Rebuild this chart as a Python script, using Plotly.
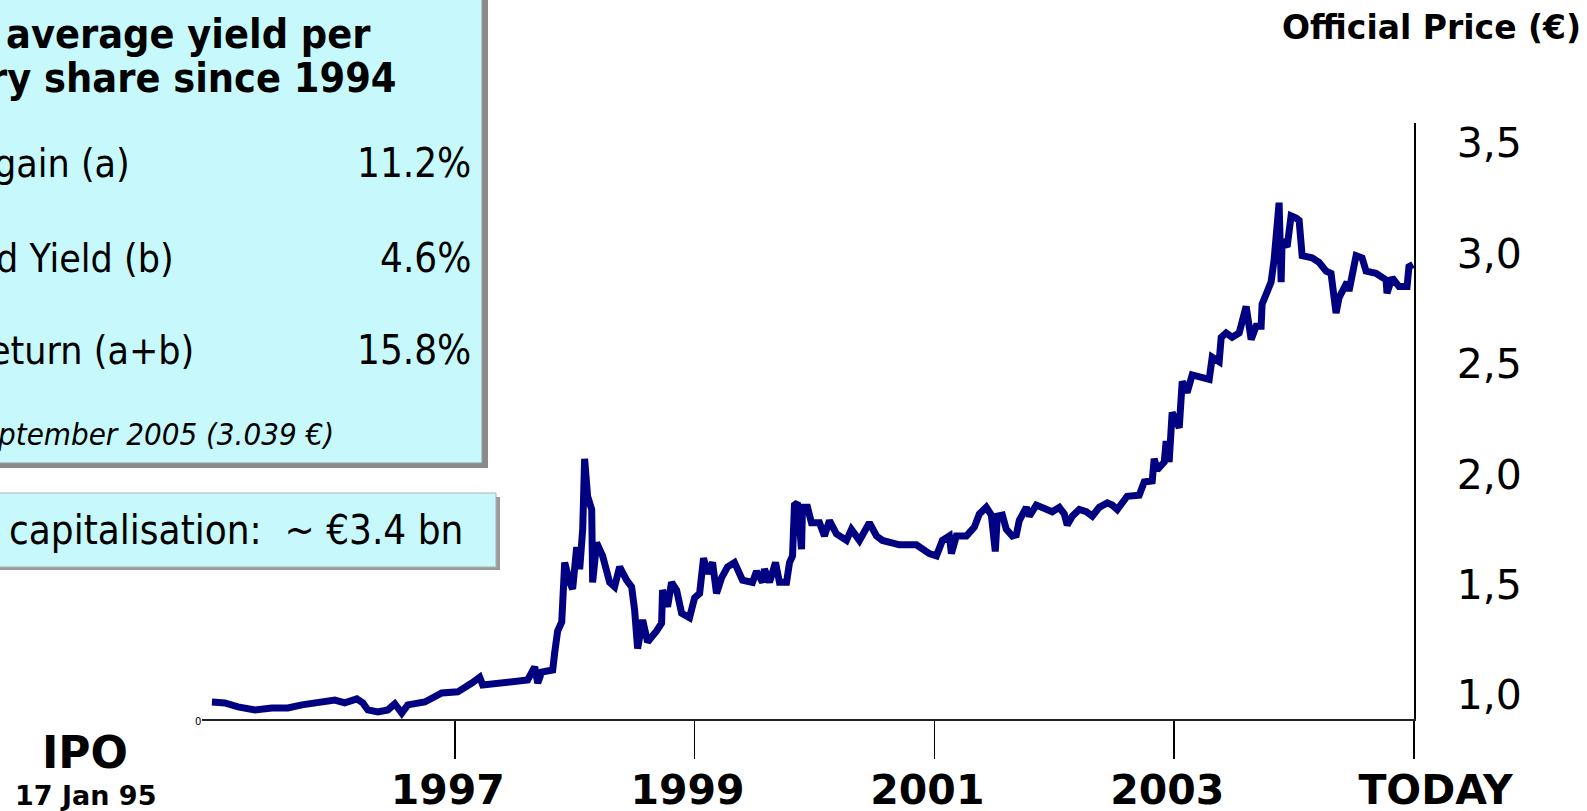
import plotly.graph_objects as go

# ---- data (decimal year, official price in EUR) ----
years = [
    1994.975, 1995.083, 1995.192, 1995.333, 1995.475, 1995.608, 1995.725, 1995.858,
    1996.0, 1996.083, 1996.183, 1996.233, 1996.275, 1996.358, 1996.442, 1996.5,
    1996.558, 1996.608, 1996.75, 1996.892, 1997.025, 1997.142, 1997.208, 1997.233,
    1997.392, 1997.608, 1997.667, 1997.692, 1997.725, 1997.817, 1997.833, 1997.858,
    1997.892, 1997.917, 1997.958, 1997.983, 1998.017, 1998.042, 1998.067, 1998.083,
    1998.108, 1998.142, 1998.15, 1998.183, 1998.233, 1998.292, 1998.333, 1998.375,
    1998.433, 1998.475, 1998.5, 1998.525, 1998.567, 1998.608, 1998.683, 1998.725,
    1998.733, 1998.775, 1998.808, 1998.85, 1998.892, 1998.958, 1999.0, 1999.042,
    1999.075, 1999.108, 1999.15, 1999.183, 1999.225, 1999.275, 1999.333, 1999.4,
    1999.483, 1999.517, 1999.567, 1999.583, 1999.625, 1999.675, 1999.708, 1999.767,
    1999.792, 1999.817, 1999.833, 1999.858, 1999.892, 1999.9, 1999.942, 1999.975,
    2000.042, 2000.083, 2000.125, 2000.183, 2000.267, 2000.308, 2000.375, 2000.458,
    2000.517, 2000.567, 2000.708, 2000.85, 2000.958, 2001.017, 2001.067, 2001.125,
    2001.142, 2001.183, 2001.267, 2001.333, 2001.375, 2001.433, 2001.475, 2001.508,
    2001.525, 2001.567, 2001.6, 2001.65, 2001.683, 2001.708, 2001.767, 2001.792,
    2001.85, 2001.933, 2001.983, 2002.042, 2002.083, 2002.108, 2002.15, 2002.208,
    2002.267, 2002.317, 2002.375, 2002.442, 2002.483, 2002.525, 2002.567, 2002.608,
    2002.708, 2002.75, 2002.817, 2002.833, 2002.858, 2002.917, 2002.933, 2002.958,
    2002.983, 2003.042, 2003.067, 2003.108, 2003.15, 2003.208, 2003.292, 2003.317,
    2003.375, 2003.392, 2003.433, 2003.483, 2003.542, 2003.6, 2003.642, 2003.683,
    2003.725, 2003.733, 2003.775, 2003.808, 2003.833, 2003.875, 2003.892, 2003.9,
    2003.942, 2003.975, 2004.017, 2004.042, 2004.067, 2004.15, 2004.208, 2004.267,
    2004.308, 2004.35, 2004.375, 2004.442, 2004.458, 2004.517, 2004.567, 2004.6,
    2004.683, 2004.767, 2004.775, 2004.817, 2004.875, 2004.942, 2004.958, 2004.992,
]
prices = [
    0.968, 0.964, 0.946, 0.932, 0.941, 0.941, 0.955, 0.964,
    0.977, 0.964, 0.982, 0.964, 0.932, 0.923, 0.932, 0.960,
    0.918, 0.955, 0.968, 1.009, 1.014, 1.054, 1.080, 1.045,
    1.054, 1.068, 1.127, 1.054, 1.104, 1.113, 1.190, 1.290,
    1.330, 1.600, 1.510, 1.480, 1.670, 1.570, 1.750, 2.070,
    1.900, 1.840, 1.510, 1.690, 1.630, 1.510, 1.490, 1.580,
    1.520, 1.490, 1.385, 1.210, 1.340, 1.240, 1.290, 1.325,
    1.475, 1.400, 1.510, 1.475, 1.370, 1.350, 1.440, 1.460,
    1.620, 1.550, 1.600, 1.460, 1.530, 1.580, 1.600, 1.520,
    1.510, 1.560, 1.510, 1.570, 1.510, 1.600, 1.510, 1.510,
    1.600, 1.630, 1.860, 1.870, 1.660, 1.850, 1.850, 1.780,
    1.780, 1.720, 1.790, 1.730, 1.700, 1.750, 1.700, 1.780,
    1.720, 1.700, 1.680, 1.680, 1.640, 1.630, 1.700, 1.720,
    1.640, 1.720, 1.720, 1.760, 1.820, 1.850, 1.815, 1.650,
    1.810, 1.815, 1.750, 1.720, 1.725, 1.790, 1.850, 1.810,
    1.860, 1.840, 1.830, 1.850, 1.820, 1.770, 1.810, 1.840,
    1.830, 1.810, 1.850, 1.870, 1.860, 1.840, 1.870, 1.900,
    1.905, 1.965, 1.970, 2.070, 2.020, 2.055, 2.150, 2.055,
    2.280, 2.210, 2.420, 2.370, 2.450, 2.440, 2.430, 2.530,
    2.510, 2.620, 2.640, 2.620, 2.640, 2.760, 2.610, 2.670,
    2.670, 2.770, 2.840, 2.870, 2.970, 3.230, 2.870, 3.060,
    3.030, 3.170, 3.160, 3.150, 2.990, 2.980, 2.960, 2.920,
    2.910, 2.730, 2.800, 2.870, 2.830, 2.990, 2.980, 2.920,
    2.910, 2.880, 2.820, 2.890, 2.850, 2.850, 2.940, 2.950,
]

x_tick_vals = [1997, 1999, 2001, 2003, 2005]
x_tick_text = ["1997", "1999", "2001", "2003", "\u00a0\u00a0\u00a0\u00a0TODAY"]
y_tick_vals = [1.0, 1.5, 2.0, 2.5, 3.0, 3.5]
y_tick_text = ["1,0", "1,5", "2,0", "2,5", "3,0", "3,5"]

box_title = ["average yield per", "ry share since 1994"]
row_labels = ["gain (a)", "d Yield (b)", "eturn (a+b)"]
row_values = ["11.2%", "4.6%", "15.8%"]
box_note = "ptember 2005 (3.039 \u20ac)"
cap_text = "capitalisation:  ~ \u20ac3.4 bn"

# ---- layout geometry (pixels) ----
W, H = 1587, 811
L, R, T, B = 202, 1414, 123, 719


def px(x):
    return (x - L) / (R - L)


def py(y):
    return (B - y) / (B - T)


BOX_FONT = "DejaVu Sans Condensed, DejaVu Sans, Verdana, sans-serif"
CHART_FONT = "DejaVu Sans, Verdana, sans-serif"

fig = go.Figure()
fig.add_trace(go.Scatter(
    x=years, y=prices, mode="lines",
    line=dict(color="#000080", width=7),
    hoverinfo="skip", showlegend=False,
))

shapes = [
    # box 1 shadow + body
    dict(type="rect", xref="paper", yref="paper", x0=px(-20), x1=px(488), y0=py(-20), y1=py(468),
         fillcolor="#8a8a8a", line=dict(width=0), layer="above"),
    dict(type="rect", xref="paper", yref="paper", x0=px(-20), x1=px(482), y0=py(-20), y1=py(463),
         fillcolor="#C6F8FC", line=dict(color="#9a9a9a", width=1), layer="above"),
    # box 2 shadow + body
    dict(type="rect", xref="paper", yref="paper", x0=px(-20), x1=px(500), y0=py(497), y1=py(570),
         fillcolor="#9a9a9a", line=dict(width=0), layer="above"),
    dict(type="rect", xref="paper", yref="paper", x0=px(-20), x1=px(496), y0=py(493), y1=py(567),
         fillcolor="#C6F8FC", line=dict(color="#b0b0b0", width=1), layer="above"),
]

ann = []


def add(text, x, y, size, xanchor="center", bold=False, italic=False, family=CHART_FONT):
    t = text
    if bold:
        t = "<b>" + t + "</b>"
    if italic:
        t = "<i>" + t + "</i>"
    ann.append(dict(text=t, x=px(x), y=py(y), xref="paper", yref="paper",
                    xanchor=xanchor, yanchor="middle", showarrow=False, borderpad=0,
                    font=dict(family=family, size=size, color="black")))


add(box_title[0], 372, 34, 41, xanchor="right", bold=True, family=BOX_FONT)
add(box_title[1], 397, 78, 41, xanchor="right", bold=True, family=BOX_FONT)
for lab, xr, val, yy in zip(row_labels, [131, 175, 195], row_values, [163, 258, 350]):
    add(lab, xr, yy, 39, xanchor="right", family=BOX_FONT)
    add(val, 472, yy, 40, xanchor="right", family=BOX_FONT)
add(box_note, 335, 434, 31, xanchor="right", italic=True, family=BOX_FONT)
add(cap_text, 464, 530, 40, xanchor="right", family=BOX_FONT)

add("Official Price (\u20ac)", 1582, 27, 33, xanchor="right", bold=True)
add("IPO", 85, 752, 44, bold=True)
add("17 Jan 95", 86, 795, 27, bold=True)
add("0", 198, 721, 10)

fig.update_layout(
    width=W, height=H,
    margin=dict(l=L, r=W - R, t=T, b=H - B, pad=0, autoexpand=False),
    paper_bgcolor="white", plot_bgcolor="white",
    shapes=shapes, annotations=ann,
    hovermode=False, showlegend=False,
    xaxis=dict(
        range=[1994.892, 2005.0], tickmode="array",
        tickvals=x_tick_vals, ticktext=x_tick_text,
        ticks="outside", ticklen=38, tickwidth=1.5, tickcolor="black",
        showline=True, linecolor="#222222", linewidth=2, automargin=False,
        showgrid=False, zeroline=False, ticklabelshift=-7, ticklabelstandoff=-4,
        tickfont=dict(family=CHART_FONT, size=41, color="black", weight="bold"),
    ),
    yaxis=dict(
        range=[0.891, 3.591], side="right", tickmode="array",
        tickvals=y_tick_vals, ticktext=y_tick_text, ticks="",
        showline=True, linecolor="black", linewidth=1.5, automargin=False,
        showgrid=False, zeroline=False, ticklabelstandoff=33,
        tickfont=dict(family=CHART_FONT, size=41, color="black"),
    ),
)

fig.write_html(
    "out.html",
    config={"displayModeBar": False, "staticPlot": True},
    post_script="document.body.style.margin='0px';document.body.style.overflow='hidden';",
)
